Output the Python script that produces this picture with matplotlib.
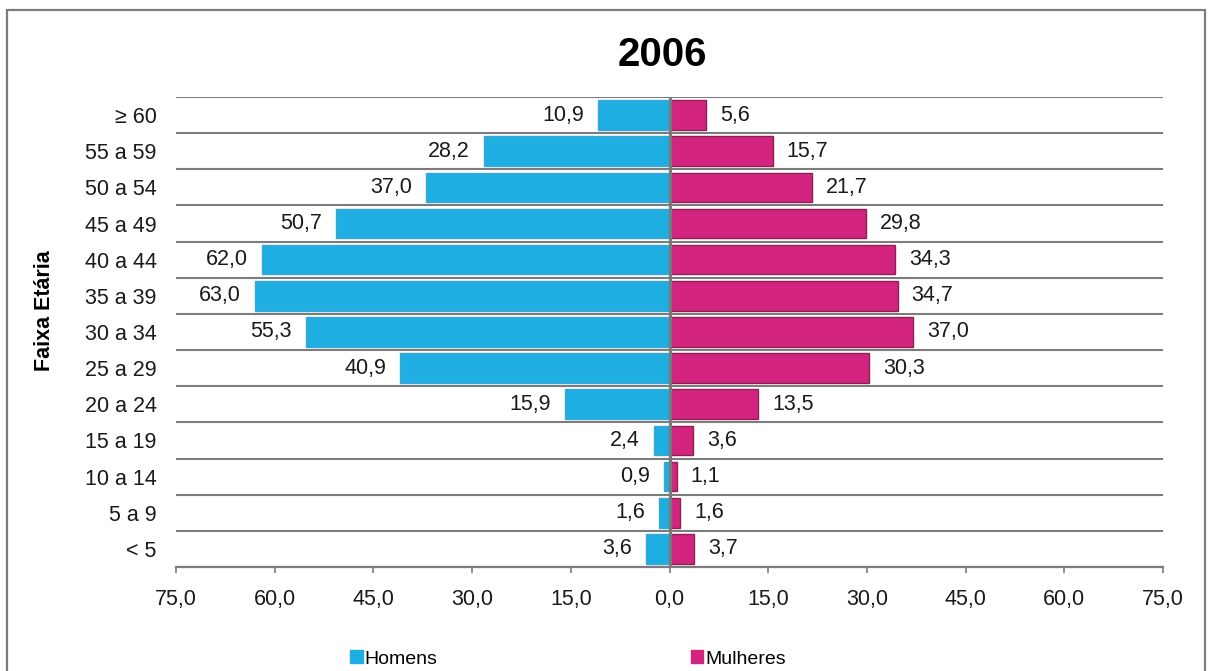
import matplotlib
matplotlib.use('Agg')
import matplotlib.pyplot as plt
from matplotlib.patches import Rectangle, Patch
from matplotlib.ticker import FuncFormatter, MultipleLocator
import numpy as np

plt.rcParams['font.family'] = ['Liberation Sans', 'DejaVu Sans']

# Data (top to bottom)
faixas = ['≥ 60', '55 a 59', '50 a 54', '45 a 49', '40 a 44', '35 a 39', '30 a 34',
          '25 a 29', '20 a 24', '15 a 19', '10 a 14', '5 a 9', '< 5']
homens = [10.9, 28.2, 37.0, 50.7, 62.0, 63.0, 55.3, 40.9, 15.9, 2.4, 0.9, 1.6, 3.6]
mulheres = [5.6, 15.7, 21.7, 29.8, 34.3, 34.7, 37.0, 30.3, 13.5, 3.6, 1.1, 1.6, 3.7]

azul = '#1eaee2'
rosa = '#d3247f'
cinza = '#7c7c7c'


def virgula(v):
    return ('%.1f' % abs(v)).replace('.', ',')


fig = plt.figure(figsize=(12.14, 6.71), dpi=100)
ax = fig.add_axes([0.145, 0.155, 0.813, 0.7005])

n = len(faixas)
y = np.arange(n)

ax.barh(y, -np.array(homens), height=0.82, color=azul, edgecolor='#3fa6d2', lw=1, zorder=2)
ax.barh(y, mulheres, height=0.82, color=rosa, edgecolor='#8e1f55', lw=1, zorder=2)

for i in range(n):
    ax.annotate(virgula(homens[i]), (-homens[i], y[i]), xytext=(-10, 0),
                textcoords='offset points', ha='right', va='center', fontsize=15.5, color='#1a1a1a')
    ax.annotate(virgula(mulheres[i]), (mulheres[i], y[i]), xytext=(10, 0),
                textcoords='offset points', ha='left', va='center', fontsize=15.5, color='#1a1a1a')

ax.axvline(0, color='#7a7a7a', lw=2.3, zorder=3)

ax.set_xlim(-75, 75)
ax.set_ylim(n - 0.5, -0.5)
ax.xaxis.set_major_locator(MultipleLocator(15))
ax.xaxis.set_major_formatter(FuncFormatter(lambda v, p: virgula(v)))
ax.set_yticks(y)
ax.set_yticklabels(faixas)
ax.set_yticks(np.arange(n + 1) - 0.5, minor=True)
ax.grid(axis='y', which='minor', color=cinza, lw=1.5, zorder=1)
ax.tick_params(axis='y', which='both', length=0, pad=14, labelsize=15.5, labelcolor='#1a1a1a')
ax.tick_params(axis='x', length=4, color=cinza, width=1.2, pad=12, labelsize=15.5, labelcolor='#1a1a1a')

for s in ['top', 'right', 'left']:
    ax.spines[s].set_visible(False)
ax.spines['bottom'].set_color(cinza)
ax.spines['bottom'].set_linewidth(1.6)

fig.text(662 / 1214, 1 - 55 / 671, '2006', ha='center', va='center', fontsize=29, fontweight='bold')
fig.text(45 / 1214, 1 - 311 / 671, 'Faixa Etária', rotation=90, ha='center', va='center',
         fontsize=15.5, fontweight='bold')

fig.legend(handles=[Patch(color=azul, label='Homens'), Patch(color=rosa, label='Mulheres')],
           loc='center', bbox_to_anchor=(568 / 1214, 1 - 659 / 671), ncol=2, frameon=False,
           handlelength=0.65, handleheight=0.65, handletextpad=0.1, columnspacing=13.0, fontsize=14)

fig.patches.append(Rectangle((7 / 1214, -0.1), (1205 - 7) / 1214, 1 - 10 / 671 + 0.1,
                             transform=fig.transFigure, fill=False, edgecolor=cinza, lw=1.6))

fig.savefig('out.png', dpi=100)
